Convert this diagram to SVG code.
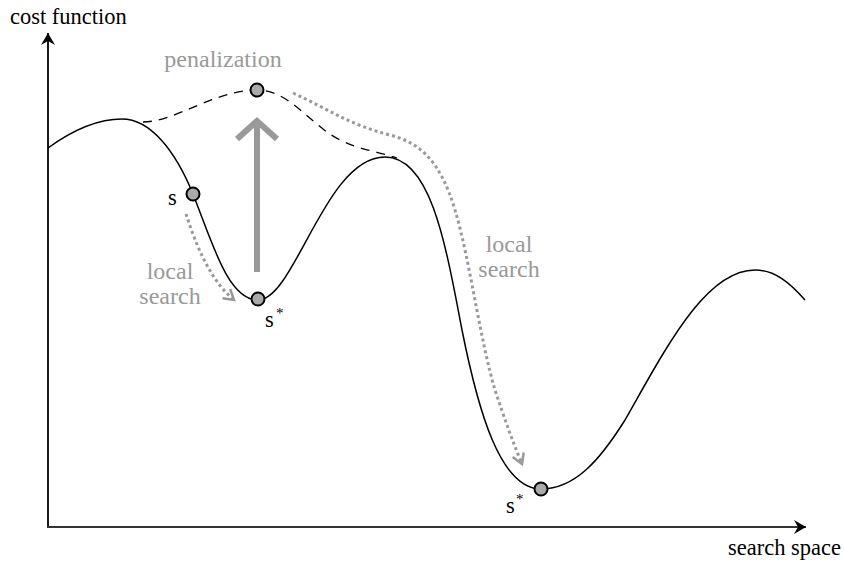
<svg xmlns="http://www.w3.org/2000/svg" width="844" height="563" viewBox="0 0 844 563">
<style>
.lbl{font-family:"Liberation Serif","Times New Roman",serif;font-size:22.5px;fill:#000}
.glbl{font-family:"Liberation Serif","Times New Roman",serif;font-size:24px;fill:#999}
.ast{font-family:"Liberation Serif","Times New Roman",serif;font-size:15px;fill:#000}
.curve{fill:none;stroke:#000;stroke-width:1.5}
.dash{fill:none;stroke:#000;stroke-width:1.3;stroke-dasharray:9,7}
.dot{fill:none;stroke:#999;stroke-width:3;stroke-dasharray:3,3}
.pt{fill:#aaa;stroke:#000;stroke-width:2}
</style>
<defs>
<marker id="ah" markerWidth="14" markerHeight="14" refX="12" refY="7" orient="auto" markerUnits="userSpaceOnUse">
<path d="M0,0 L12,7 L0,14 L4,7 Z" fill="#000"/>
</marker>
<marker id="dah" markerWidth="16" markerHeight="16" refX="12" refY="8" orient="auto" markerUnits="userSpaceOnUse">
<path d="M2,2 L12,8 L2,14" fill="none" stroke="#999" stroke-width="2.5"/>
</marker>
</defs>
<g id="axes">
<line x1="48" y1="528" x2="48" y2="33" stroke="#000" stroke-width="1.8" marker-end="url(#ah)"/>
<line x1="47" y1="527" x2="806" y2="527" stroke="#333" stroke-width="1.8" marker-end="url(#ah)"/>
<text class="lbl" x="10" y="24">cost function</text>
<text class="lbl" x="841" y="555" text-anchor="end">search space</text>
</g>
<g id="connectors">
<path class="curve" d="M48,148 C70,132 95,119 122,119 C150,119 175,150 193,194 C212,242 228,300 258,300 C295,300 325,157 385,157 C430,157 445,240 462,330 C478,410 500,489 541,489 C575,489 600,460 625,420 C665,350 705,270 755,270 C775,270 790,283 805,300"/>
<path class="dash" d="M143,122 C175,122 215,90 257,90 C290,90 310,125 340,140 C360,150 380,152 397,158"/>
<line x1="257" y1="272" x2="257" y2="122" stroke="#999" stroke-width="6"/>
<polyline points="237,139 257,121 277,139" fill="none" stroke="#999" stroke-width="6"/>
<path class="dot" d="M186,214 C196,245 210,280 234,300" marker-end="url(#dah)"/>
<path class="dot" d="M293,93 C330,110 350,125 390,135 C420,143 440,160 455,210 C470,260 480,340 495,390 C505,420 512,440 522,464" marker-end="url(#dah)"/>
</g>
<g id="penalization">
<circle class="pt" cx="257" cy="90" r="6.5"/>
<text class="glbl" x="223" y="67" font-size="24.5" text-anchor="middle">penalization</text>
</g>
<g id="s">
<circle class="pt" cx="193" cy="194" r="6.5"/>
<text class="lbl" x="168" y="205">s</text>
</g>
<g id="s-star-1">
<circle class="pt" cx="258" cy="299" r="6.5"/>
<text class="lbl" x="265" y="327">s</text>
<text class="ast" x="276" y="318">*</text>
</g>
<g id="s-star-2">
<circle class="pt" cx="541" cy="489" r="6.5"/>
<text class="lbl" x="506" y="513">s</text>
<text class="ast" x="516" y="504">*</text>
</g>
<g id="local-search-1">
<text class="glbl" x="170" y="279" text-anchor="middle">local</text>
<text class="glbl" x="170" y="304" text-anchor="middle">search</text>
</g>
<g id="local-search-2">
<text class="glbl" x="509" y="252" text-anchor="middle">local</text>
<text class="glbl" x="509" y="277" text-anchor="middle">search</text>
</g>
</svg>
